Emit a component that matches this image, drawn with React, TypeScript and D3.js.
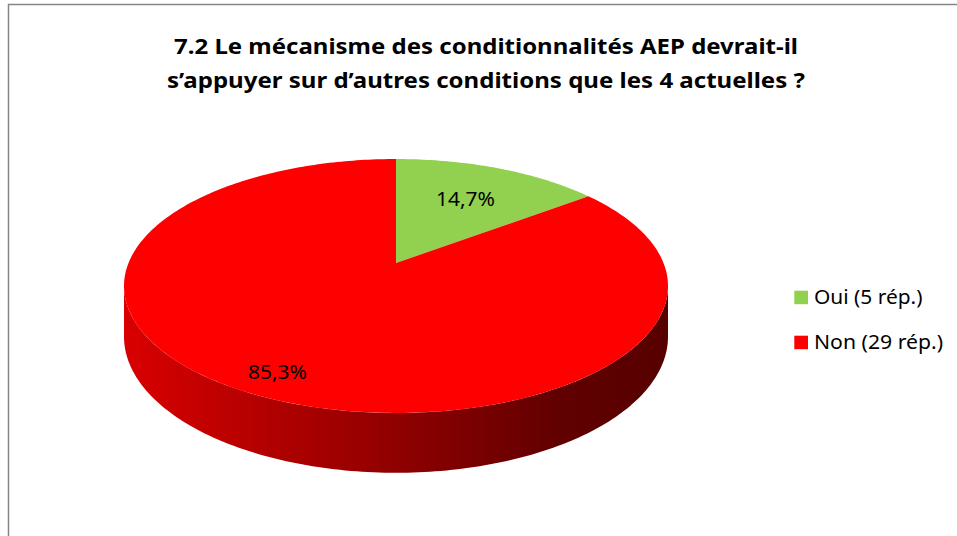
import React, { useEffect, useRef } from 'react'
import * as d3 from 'd3'

// Data
const categories = ['Oui (5 rép.)', 'Non (29 rép.)']
const counts = [5, 29]
const colors = ['#92d050', '#ff0000']
const titleLines = [
  '7.2 Le mécanisme des conditionnalités AEP devrait-il',
  's’appuyer sur d’autres conditions que les 4 actuelles ?'
]

const W = 957
const H = 536

export default function App() {
  const ref = useRef<SVGSVGElement | null>(null)

  useEffect(() => {
    const svg = d3.select(ref.current)
    svg.selectAll('*').remove()

    const font = "'Noto Sans', 'DejaVu Sans', sans-serif"

    // frame (chart area border, clipped at right / bottom)
    svg
      .append('path')
      .attr('d', `M8.5,${H} V4.5 H${W}`)
      .attr('fill', 'none')
      .attr('stroke', '#868686')
      .attr('stroke-width', 1.5)

    // title
    const titleY = [53.5, 88]
    const titleW = [624, 638]
    svg
      .selectAll('text.title')
      .data(titleLines)
      .enter()
      .append('text')
      .attr('class', 'title')
      .attr('x', 486)
      .attr('y', (d, i) => titleY[i])
      .attr('text-anchor', 'middle')
      .attr('font-family', font)
      .attr('font-weight', 'bold')
      .attr('font-size', 22)
      .attr('textLength', (d, i) => titleW[i])
      .attr('lengthAdjust', 'spacingAndGlyphs')
      .attr('fill', '#000')
      .text(d => d)

    // perspective projection of the pie disc
    const cx = 396
    const cy = 263
    const k = 0.181
    const A = 267.5
    const B = 122.8
    const D = 49

    const proj = (t: number, r: number, dz: number): [number, number] => {
      const u = r * Math.sin(t)
      const v = -r * Math.cos(t)
      const w = 1 - k * v
      return [cx + (A * u) / w, cy + (B * v + dz) / w]
    }

    const arcPts = (a0: number, a1: number, dz: number) => {
      const n = Math.max(2, Math.ceil(((a1 - a0) / Math.PI) * 180))
      return d3.range(n + 1).map(i => proj(a0 + ((a1 - a0) * i) / n, 1, dz))
    }

    const line = d3.line()
    const total = d3.sum(counts)
    const pie = d3.pie<number>().sort(null)(counts)

    const defs = svg.append('defs')

    // visible side range (between the two silhouette points, through the front)
    const tR = Math.acos(-k)
    const tL = 2 * Math.PI - tR

    const sideG = svg.append('g')
    pie.forEach((p, i) => {
      const a0 = Math.max(p.startAngle, tR)
      const a1 = Math.min(p.endAngle, tL)
      if (a1 <= a0) return
      const id = `side${i}`
      const g = defs
        .append('linearGradient')
        .attr('id', id)
        .attr('gradientUnits', 'userSpaceOnUse')
        .attr('x1', cx - 272)
        .attr('x2', cx + 272)
        .attr('y1', 0)
        .attr('y2', 0)
      const stops: [number, number][] = [
        [0, 0.45],
        [0.15, 0.75],
        [0.5, 1.6],
        [0.8, 2.7],
        [1, 3.0]
      ]
      stops.forEach(([o, dk]) => {
        g.append('stop')
          .attr('offset', o)
          .attr('stop-color', d3.color(colors[i])!.darker(dk).formatHex())
      })
      const pts = arcPts(a0, a1, 0).concat(arcPts(a0, a1, D).reverse())
      sideG
        .append('path')
        .attr('d', line(pts) + 'Z')
        .attr('fill', `url(#${id})`)
    })

    // top face
    svg
      .append('g')
      .selectAll('path')
      .data(pie)
      .enter()
      .append('path')
      .attr('d', p => line([[cx, cy] as [number, number]].concat(arcPts(p.startAngle, p.endAngle, 0))) + 'Z')
      .attr('fill', (p, i) => colors[i])

    // data labels
    const labelR = [0.643, 0.856]
    const fmt = (v: number) => d3.format('.1%')(v).replace('.', ',')
    svg
      .append('g')
      .selectAll('text')
      .data(pie)
      .enter()
      .append('text')
      .attr('x', (p, i) => proj((p.startAngle + p.endAngle) / 2, labelR[i], 0)[0])
      .attr('y', (p, i) => proj((p.startAngle + p.endAngle) / 2, labelR[i], 0)[1])
      .attr('dy', '0.36em')
      .attr('text-anchor', 'middle')
      .attr('font-family', font)
      .attr('font-size', 20)
      .attr('textLength', 59)
      .attr('lengthAdjust', 'spacingAndGlyphs')
      .attr('fill', '#000')
      .text(p => fmt(p.value / total))

    // legend
    const legend = svg
      .append('g')
      .selectAll('g')
      .data(categories)
      .enter()
      .append('g')
      .attr('transform', (d, i) => `translate(794.3, ${290.7 + i * 45})`)
    legend
      .append('rect')
      .attr('width', 13.7)
      .attr('height', 13.5)
      .attr('fill', (d, i) => colors[i])
    const legendW = [108.5, 129]
    legend
      .append('text')
      .attr('x', 19.7)
      .attr('y', 13.6)
      .attr('font-family', font)
      .attr('font-size', 19)
      .attr('textLength', (d, i) => legendW[i])
      .attr('lengthAdjust', 'spacingAndGlyphs')
      .attr('fill', '#000')
      .text(d => d)
  }, [])

  return (
    <div style={{ position: 'absolute', left: 0, top: 0 }}>
      <svg ref={ref} width={W} height={H} style={{ display: 'block', background: '#fff' }} />
    </div>
  )
}
